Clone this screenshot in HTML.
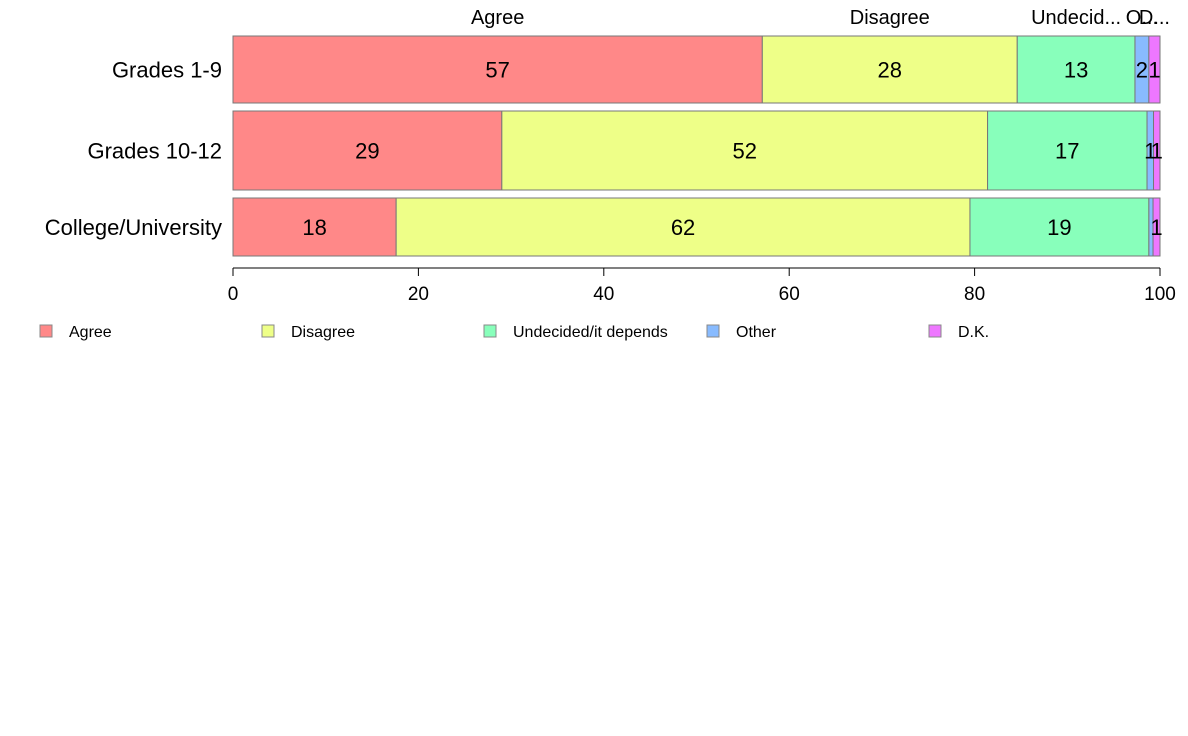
<!DOCTYPE html>
<html><head><meta charset="utf-8"><style>
body{margin:0;background:#fff;}
svg{display:block;font-family:"Liberation Sans",Arial,sans-serif;}
</style></head><body>
<svg id="chart" width="1188" height="736"></svg>
<script>
const categories=["Grades 1-9","Grades 10-12","College/University"];
const seriesNames=["Agree","Disagree","Undecided/it depends","Other","D.K."];
const topLabels=["Agree","Disagree","Undecid...","O...","D..."];
const agree=[57.1,29.0,17.6];
const disagree=[27.5,52.4,61.9];
const undecided=[12.7,17.2,19.3];
const other=[1.5,0.7,0.45];
const dk=[1.2,0.7,0.75];
const ticks=[0,20,40,60,80,100];
const colors=["#ff8888","#eeff88","#88ffbb","#88bbff","#ee77ff"];
const series=[agree,disagree,undecided,other,dk];
const svg=document.getElementById('chart');
const NS="http://www.w3.org/2000/svg";
const x0=233,x1=1160;
const xs=v=>x0+(x1-x0)*v/100;
const rows=[[36,103],[111,190],[198,256]];
function mk(t,a,p){const e=document.createElementNS(NS,t);for(const k in a)e.setAttribute(k,a[k]);(p||svg).appendChild(e);return e;}
categories.forEach((c,i)=>{
  const [y0,y1]=rows[i];
  const lab=mk('text',{x:222,y:(y0+y1)/2+8,'text-anchor':'end','font-size':22,fill:'#000'});
  lab.textContent=c;
  
  
  let acc=0;
  series.forEach((s,j)=>{
    const v=s[i];
    const r=mk('rect',{x:xs(acc),y:y0,width:xs(acc+v)-xs(acc),height:y1-y0,fill:colors[j],stroke:'#777','stroke-width':1});
    
    
    const rv=Math.round(v);
    if(rv>0){
      const t=mk('text',{x:xs(acc+v/2),y:(y0+y1)/2+8,'text-anchor':'middle','font-size':22,fill:'#000'});
      t.textContent=rv;
      
      
    }
    if(i===0){
      const t=mk('text',{x:xs(acc+v/2),y:24,'text-anchor':'middle','font-size':20,fill:'#000'});
      t.textContent=topLabels[j];
      
      
    }
    acc+=v;
  });
});
const ax=mk('line',{x1:x0,x2:x1,y1:268,y2:268,stroke:'#000'});


ticks.forEach(t=>{
  const l=mk('line',{x1:xs(t),x2:xs(t),y1:268,y2:276,stroke:'#000'});
  
  
  const tx=mk('text',{x:xs(t),y:300,'text-anchor':'middle','font-size':19,fill:'#000'});
  tx.textContent=t;
  
  
});
const lx=[40,262,484,707,929];
seriesNames.forEach((n,j)=>{
  const r=mk('rect',{x:lx[j],y:325,width:12,height:12,fill:colors[j],stroke:'#888'});
  
  
  const t=mk('text',{x:lx[j]+29,y:337,'font-size':16,fill:'#000'});
  t.textContent=n;
  
  
});
</script>
</body></html>
